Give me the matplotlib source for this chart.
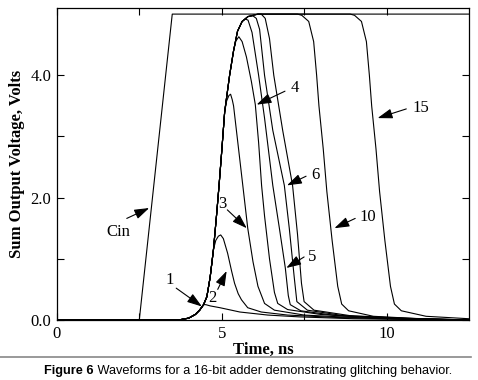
import numpy as np
import matplotlib
matplotlib.use("Agg")
import matplotlib.pyplot as plt

# common rising edge of the sum outputs (ns, V)
rise_t = [0.0, 3.7, 4.0, 4.2, 4.33, 4.45, 4.55, 4.65, 4.75, 4.85, 4.92, 5.0, 5.09, 5.24, 5.36, 5.48, 5.62, 5.8, 6.1]
rise_v = [0.0, 0.0, 0.03, 0.09, 0.16, 0.25, 0.38, 0.7, 1.15, 1.75, 2.2, 2.75, 3.4, 4.0, 4.4, 4.72, 4.88, 4.96, 5.0]

# carry in
cin_t = [0.0, 2.5, 3.5, 12.5]
cin_v = [0.0, 0.0, 5.0, 5.0]

# each bit after it leaves the common edge
bit1_t = [4.52, 4.65, 4.95, 5.55, 6.4, 7.36, 9.0, 11.0, 12.5]
bit1_v = [0.25, 0.23, 0.2, 0.13, 0.08, 0.05, 0.02, 0.005, 0.0]

bit2_t = [4.82, 4.9, 4.97, 5.05, 5.18, 5.3, 5.39, 5.5, 5.6, 5.79, 6.2, 7.0, 8.5, 10.0, 12.5]
bit2_v = [1.3, 1.37, 1.39, 1.33, 1.09, 0.8, 0.6, 0.43, 0.33, 0.2, 0.13, 0.08, 0.04, 0.02, 0.0]

bit3_t = [5.15, 5.22, 5.27, 5.32, 5.36, 5.5, 5.64, 5.79, 5.95, 6.1, 6.3, 6.6, 7.5, 9.0, 11.0, 12.5]
bit3_v = [3.58, 3.67, 3.69, 3.6, 3.5, 2.85, 2.2, 1.5, 0.95, 0.55, 0.27, 0.16, 0.08, 0.04, 0.01, 0.0]

bit4_t = [5.43, 5.52, 5.62, 5.75, 5.9, 6.02, 6.12, 6.21, 6.3, 6.45, 6.6, 6.7, 7.0, 8.0, 9.5, 11.5, 12.5]
bit4_v = [4.56, 4.63, 4.55, 4.3, 3.9, 3.52, 2.9, 2.2, 1.7, 1.0, 0.45, 0.27, 0.17, 0.09, 0.04, 0.01, 0.0]

bit5_t = [5.72, 5.8, 5.92, 6.12, 6.3, 6.55, 6.75, 6.93, 7.02, 7.08, 7.4, 8.5, 10.0, 12.5]
bit5_v = [4.92, 4.9, 4.7, 4.0, 3.3, 2.2, 1.5, 0.85, 0.4, 0.25, 0.15, 0.07, 0.03, 0.0]

bit6_t = [5.95, 6.05, 6.15, 6.3, 6.55, 6.9, 7.05, 7.2, 7.28, 7.6, 8.7, 10.3, 12.5]
bit6_v = [4.97, 4.93, 4.75, 4.0, 3.1, 2.2, 1.5, 0.7, 0.3, 0.16, 0.07, 0.03, 0.0]

bit7_t = [6.2, 6.32, 6.45, 6.58, 6.85, 7.15, 7.3, 7.42, 7.5, 7.8, 8.9, 10.5, 12.5]
bit7_v = [5.0, 4.93, 4.6, 4.0, 3.1, 2.2, 1.4, 0.6, 0.3, 0.16, 0.07, 0.03, 0.0]

bit10_t = [7.3, 7.43, 7.64, 7.79, 7.88, 7.95, 8.08, 8.19, 8.35, 8.52, 8.64, 8.85, 9.6, 11.0, 12.5]
bit10_v = [5.0, 4.98, 4.88, 4.55, 4.0, 3.5, 2.8, 2.1, 1.3, 0.55, 0.26, 0.15, 0.06, 0.02, 0.0]

bit15_t = [8.9, 9.03, 9.24, 9.39, 9.48, 9.55, 9.68, 9.79, 9.95, 10.12, 10.24, 10.45, 11.2, 12.5]
bit15_v = [5.0, 4.98, 4.88, 4.55, 4.0, 3.5, 2.8, 2.1, 1.3, 0.55, 0.26, 0.15, 0.06, 0.02]

bits = [(bit1_t, bit1_v), (bit2_t, bit2_v), (bit3_t, bit3_v), (bit4_t, bit4_v),
        (bit5_t, bit5_v), (bit6_t, bit6_v), (bit7_t, bit7_v),
        (bit10_t, bit10_v), (bit15_t, bit15_v)]

# label, text position, arrow start, arrow tip
labels = ["1", "2", "3", "4", "5", "6", "10", "15", "Cin"]
label_xy = [(3.42, 0.65), (4.73, 0.36), (5.03, 1.9), (7.22, 3.8), (7.75, 1.03),
            (7.84, 2.37), (9.42, 1.68), (11.05, 3.47), (1.85, 1.44)]
start_xy = [(3.62, 0.52), (4.88, 0.5), (5.17, 1.8), (6.92, 3.74), (7.5, 1.03),
            (7.56, 2.35), (9.05, 1.66), (10.6, 3.45), (2.12, 1.66)]
tip_xy = [(4.4, 0.22), (5.15, 0.8), (5.76, 1.5), (6.06, 3.52), (6.96, 0.85),
          (6.98, 2.2), (8.42, 1.5), (9.73, 3.3), (2.8, 1.83)]


def with_rise(t, v):
    n = np.searchsorted(rise_t, t[0])
    return np.r_[rise_t[:n], t], np.r_[rise_v[:n], v]


fig = plt.figure(figsize=(4.78, 3.8), dpi=100)
ax = fig.add_axes([0.119, 0.158, 0.862, 0.821])

serif = "Liberation Serif"
ax.plot(cin_t, cin_v, color="black", lw=0.8)
for t, v in bits:
    tt, vv = with_rise(t, v)
    ax.plot(tt, vv, color="black", lw=0.8)

for lab, xy, st, tip in zip(labels, label_xy, start_xy, tip_xy):
    ax.text(xy[0], xy[1], lab, fontsize=12, family=serif, ha="center", va="center")
    ax.annotate("", xy=tip, xytext=st,
                arrowprops=dict(arrowstyle="-|>,head_length=0.9,head_width=0.3",
                                color="black", lw=0.8, shrinkA=0, shrinkB=0))

ax.set_xlim(0, 12.5)
ax.set_ylim(0, 5.1)
ax.set_xticks([0, 5, 10])
ax.set_xticks([2.5, 7.5], minor=True)
ax.set_yticks([0, 2, 4])
ax.set_yticks([1, 3], minor=True)
ax.set_xticklabels(["0", "5", "10"])
ax.set_yticklabels(["0.0", "2.0", "4.0"])
ax.tick_params(which="both", direction="in", top=True, right=True, length=5, width=0.8,
               labelsize=12, pad=4)
for lab in ax.get_xticklabels() + ax.get_yticklabels():
    lab.set_family(serif)
for s in ax.spines.values():
    s.set_linewidth(0.9)

ax.set_xlabel("Time, ns", fontsize=12, fontweight="bold", family=serif, labelpad=0)
ax.set_ylabel("Sum Output Voltage, Volts", fontsize=12, fontweight="bold", family=serif, labelpad=4)

ycap = 1 - 371 / 380
fig.add_artist(plt.Line2D([0.0, 0.985], [1 - 357 / 380, 1 - 357 / 380], color="#888888", lw=1.2))
t1 = fig.text(0.093, ycap, "Figure 6", fontsize=9.2, fontweight="bold",
              family="Liberation Sans", va="center", ha="left")
renderer = fig.canvas.get_renderer()
bb = t1.get_window_extent(renderer).transformed(fig.transFigure.inverted())
fig.text(bb.x1, ycap, " Waveforms for a 16-bit adder demonstrating glitching behavior.",
         fontsize=9.2, family="Liberation Sans", va="center", ha="left")

fig.savefig("out.png", dpi=100)
